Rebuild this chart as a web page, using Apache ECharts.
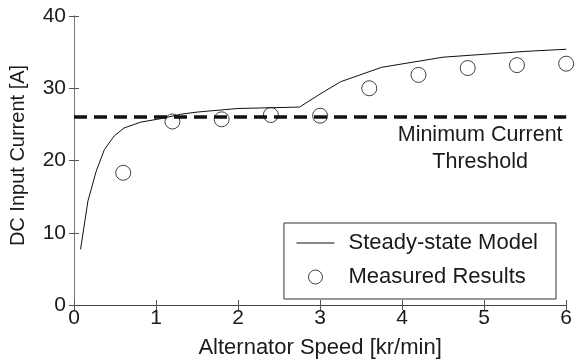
<!DOCTYPE html>
<html>
<head>
<meta charset="utf-8">
<script src="https://cdn.jsdelivr.net/npm/echarts@6/dist/echarts.min.js"></script>
<style>
  html, body { margin: 0; padding: 0; background: #fff; }
  #chart { width: 575px; height: 364px; }
</style>
</head>
<body>
<div id="chart"></div>
<script>
// Steady-state model curve: alternator speed [kr/min] vs DC input current [A]
const modelSpeed   = [0.08, 0.17, 0.27, 0.37, 0.49, 0.61, 0.81, 1.06, 1.3, 1.5, 2.0, 2.4, 2.75, 3.0, 3.25, 3.75, 4.5, 5.5, 6.0];
const modelCurrent = [7.7, 14.4, 18.5, 21.5, 23.4, 24.5, 25.3, 25.8, 26.4, 26.7, 27.2, 27.3, 27.4, 29.2, 30.9, 32.9, 34.3, 35.1, 35.4];

// Measured operating points
const measuredSpeed   = [0.6, 1.2, 1.8, 2.4, 3.0, 3.6, 4.2, 4.8, 5.4, 6.0];
const measuredCurrent = [18.3, 25.4, 25.7, 26.3, 26.2, 30.0, 31.85, 32.8, 33.2, 33.4];

// Minimum current threshold [A]
const thresholdCurrent = 26;

// Axis ticks
const speedTicks   = [0, 1, 2, 3, 4, 5, 6];
const currentTicks = [0, 10, 20, 30, 40];

const FONT = '"Liberation Sans", Arial, Helvetica, sans-serif';
const TEXT = '#1a1a1a';

const pairs = (xs, ys) => xs.map((x, i) => [x, ys[i]]);

const chart = echarts.init(document.getElementById('chart'), null, { renderer: 'canvas' });

const boxAxis = (extra) => Object.assign({
  type: 'value',
  axisLine: { show: true, lineStyle: { color: '#7a7a7a', width: 1 } },
  axisTick: { show: true, inside: true, length: 5, lineStyle: { color: '#555', width: 1 } },
  splitLine: { show: false }
}, extra);

chart.setOption({
  animation: false,
  backgroundColor: '#fff',
  textStyle: { fontFamily: FONT },
  grid: { left: 73, right: 8, top: 16, bottom: 55 },
  xAxis: [
    boxAxis({
      min: speedTicks[0], max: speedTicks[speedTicks.length - 1], interval: 1,
      name: 'Alternator Speed [kr/min]',
      nameLocation: 'middle', nameGap: 32,
      nameTextStyle: { fontSize: 22, color: TEXT, fontFamily: FONT },
      axisLabel: { fontSize: 21, color: TEXT, margin: 3, fontFamily: FONT }
    }),
    boxAxis({
      position: 'top',
      min: speedTicks[0], max: speedTicks[speedTicks.length - 1], interval: 1,
      axisLabel: { show: false },
      axisLine: { show: true, lineStyle: { color: '#444', width: 1 } }
    })
  ],
  yAxis: [
    boxAxis({
      min: currentTicks[0], max: currentTicks[currentTicks.length - 1], interval: 10,
      name: 'DC Input Current [A]',
      nameLocation: 'middle', nameGap: 46,
      nameTextStyle: { fontSize: 20, color: TEXT, fontFamily: FONT, padding: [0, 0, 0, 10] },
      axisLabel: { fontSize: 21, color: TEXT, margin: 8, fontFamily: FONT }
    }),
    boxAxis({
      position: 'right',
      min: currentTicks[0], max: currentTicks[currentTicks.length - 1], interval: 10,
      axisLabel: { show: false }
    })
  ],
  legend: {
    right: 19, bottom: 65,
    orient: 'vertical',
    backgroundColor: '#fff',
    borderColor: '#333', borderWidth: 1, borderRadius: 0,
    padding: [9, 18, 11, 12],
    itemWidth: 38, itemHeight: 14, itemGap: 12,
    textStyle: { fontSize: 22, color: TEXT, fontFamily: FONT, padding: [0, 0, 0, 9] },
    data: [
      { name: 'Steady-state Model', itemStyle: { opacity: 0 }, lineStyle: { width: 1, color: '#111' } },
      { name: 'Measured Results', itemStyle: { color: 'rgba(255,255,255,0)', borderColor: '#111', borderWidth: 1 } }
    ]
  },
  series: [
    {
      name: 'Measured Results',
      type: 'scatter',
      data: pairs(measuredSpeed, measuredCurrent),
      symbol: 'circle',
      symbolSize: 15,
      itemStyle: { color: 'rgba(255,255,255,0)', borderColor: '#111', borderWidth: 1 },
      z: 2
    },
    {
      name: 'Steady-state Model',
      type: 'line',
      data: pairs(modelSpeed, modelCurrent),
      symbol: 'none',
      itemStyle: { color: '#111' },
      lineStyle: { color: '#111', width: 1 },
      z: 3,
      markLine: {
        silent: true,
        symbol: ['none', 'none'],
        lineStyle: { color: '#111', width: 3.5, type: [13, 7] },
        label: {
          show: true,
          position: 'insideEndBottom',
          distance: [3, 4],
          formatter: '{a|Minimum Current}\n{a|Threshold}',
          rich: {
            a: { fontSize: 21.5, lineHeight: 27, width: 166, align: 'center', color: TEXT, fontFamily: FONT }
          }
        },
        data: [{ yAxis: thresholdCurrent }]
      }
    }
  ]
});
</script>
</body>
</html>
